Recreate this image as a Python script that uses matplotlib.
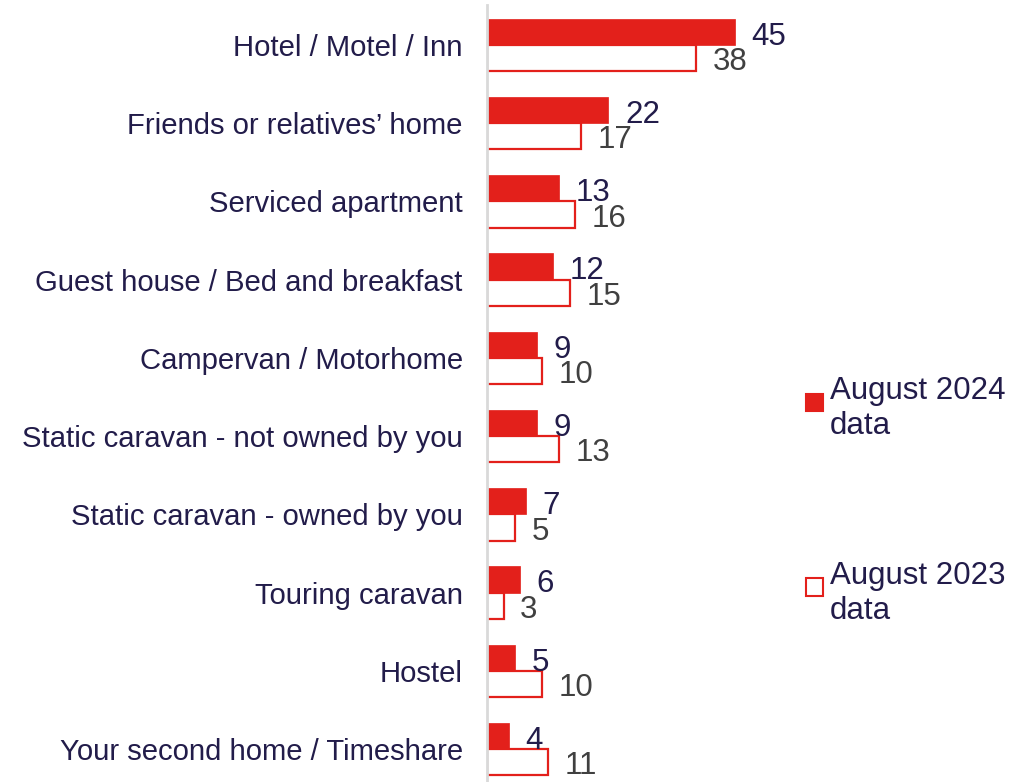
import numpy as np
import matplotlib.pyplot as plt
from matplotlib.patches import Patch, Rectangle
from matplotlib.legend_handler import HandlerPatch

plt.rcParams['font.family'] = ['Liberation Sans', 'DejaVu Sans']

# data
categories = ['Hotel / Motel / Inn', 'Friends or relatives\u2019 home', 'Serviced apartment',
              'Guest house / Bed and breakfast', 'Campervan / Motorhome',
              'Static caravan - not owned by you', 'Static caravan - owned by you',
              'Touring caravan', 'Hostel', 'Your second home / Timeshare']
aug_2024 = [45, 22, 13, 12, 9, 9, 7, 6, 5, 4]
aug_2023 = [38, 17, 16, 15, 10, 13, 5, 3, 10, 11]
series_labels = ['August 2024\ndata', 'August 2023\ndata']

red = '#E3201B'
navy = '#221C4A'
grey = '#404040'

fig = plt.figure(figsize=(10.35, 7.82), dpi=100)
ax = fig.add_axes([487 / 1035, 0.0, 275 / 1035, 1 - 5 / 782])

y = np.arange(len(categories))
h = 0.335
ax.barh(y - h / 2, aug_2024, height=h, color=red, edgecolor=red, linewidth=0.5)
ax.barh(y + h / 2, aug_2023, height=h, color='white', edgecolor=red, linewidth=1.6)

for yi, v in zip(y, aug_2024):
    ax.annotate(str(v), (v, yi - h / 2), xytext=(12, -3.5), textcoords='offset points',
                va='center', ha='left', fontsize=22.5, color=navy, annotation_clip=False)
for yi, v in zip(y, aug_2023):
    ax.annotate(str(v), (v, yi + h / 2), xytext=(12, -3), textcoords='offset points',
                va='center', ha='left', fontsize=22.5, color=grey, annotation_clip=False)

ax.set_xlim(0, 49.9)
ax.set_ylim(9.42, -0.51)
ax.set_yticks(y)
ax.set_yticklabels(categories, fontsize=21.1, color=navy)
ax.set_xticks([])
ax.tick_params(axis='y', length=0, pad=17.5)
for s in ['top', 'right', 'bottom']:
    ax.spines[s].set_visible(False)
ax.spines['left'].set_color('#D9D9D9')
ax.spines['left'].set_linewidth(2)


class TopSquare(HandlerPatch):
    def create_artists(self, legend, orig_handle, xdescent, ydescent, width, height,
                       fontsize, trans):
        size = 0.55 * fontsize
        p = Rectangle((-xdescent + width - size, -ydescent + height - size - 0.25 * fontsize),
                      size, size, facecolor=orig_handle.get_facecolor(),
                      edgecolor=orig_handle.get_edgecolor(), linewidth=1.5, transform=trans)
        return [p]


handles = [Patch(facecolor=red, edgecolor=red), Patch(facecolor='white', edgecolor=red)]
fig.legend(handles, series_labels, loc='upper left', bbox_to_anchor=(804 / 1035, 1 - 376 / 782),
           frameon=False, fontsize=22.5, labelcolor=navy, labelspacing=3.85,
           handlelength=0.6, handleheight=2.0, handletextpad=0.22, borderpad=0,
           borderaxespad=0, handler_map={Patch: TopSquare()})

fig.savefig('out.png', dpi=100)
